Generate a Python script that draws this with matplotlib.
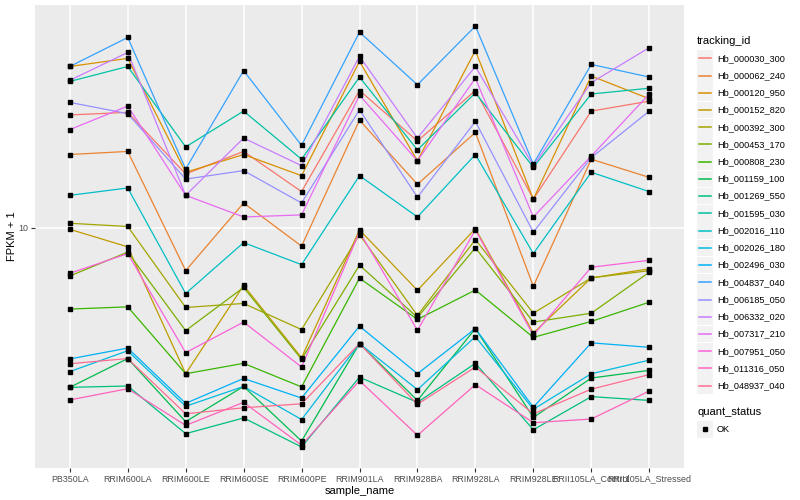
import numpy as np
import matplotlib
matplotlib.use('Agg')
import matplotlib.pyplot as plt
from matplotlib.patches import Rectangle
from matplotlib.lines import Line2D

plt.rcParams['font.family'] = ['Liberation Sans', 'DejaVu Sans']

# Образцы (ось X)
samples = ['PB350LA', 'RRIM600LA', 'RRIM600LE', 'RRIM600SE', 'RRIM600PE', 'RRIM901LA',
           'RRIM928BA', 'RRIM928LA', 'RRIM928LE', 'RRII105LA_Control', 'RRII105LA_Stressed']

# FPKM + 1 для каждого гена
hb_000030_300 = [16.8, 17.0, 12.8, 14.2, 11.8, 18.8, 14.9, 18.8, 11.4, 17.1, 17.9]
hb_000062_240 = [14.0, 14.2, 8.2, 11.2, 9.18, 16.4, 12.2, 15.5, 7.63, 13.7, 12.6]
hb_000120_950 = [21.0, 21.8, 12.9, 14.0, 12.7, 21.5, 13.6, 22.6, 11.4, 20.1, 18.1]
hb_000152_820 = [9.92, 9.15, 5.10, 7.66, 5.49, 9.89, 7.49, 9.95, 6.15, 7.93, 8.27]
hb_000392_300 = [10.2, 10.05, 6.92, 7.05, 6.25, 9.68, 6.67, 9.46, 6.74, 7.93, 8.20]
hb_000453_170 = [8.00, 8.93, 6.22, 7.59, 5.45, 8.41, 6.61, 9.11, 6.47, 6.74, 8.14]
hb_000808_230 = [6.87, 6.94, 5.10, 5.35, 4.80, 7.92, 6.55, 7.50, 6.03, 6.49, 7.09]
hb_001159_100 = [4.79, 5.47, 4.09, 4.81, 3.74, 5.86, 4.51, 6.28, 4.17, 5.00, 5.18]
hb_001269_550 = [4.79, 4.82, 3.87, 4.16, 3.64, 5.02, 4.47, 5.35, 3.94, 4.59, 4.51]
hb_001595_030 = [19.6, 21.0, 14.5, 17.1, 13.7, 20.0, 14.3, 18.6, 13.2, 18.5, 19.0]
hb_002016_110 = [11.6, 12.0, 7.38, 9.33, 8.43, 12.7, 10.5, 14.0, 8.87, 12.9, 11.8]
hb_002026_180 = [5.15, 5.67, 4.39, 4.81, 4.13, 5.86, 4.74, 6.05, 4.33, 5.10, 5.43]
hb_002496_030 = [5.46, 5.74, 4.45, 4.99, 4.56, 6.35, 5.10, 6.28, 4.37, 5.88, 5.76]
hb_004837_040 = [21.0, 24.0, 13.1, 20.6, 14.6, 24.6, 19.3, 25.3, 13.4, 21.2, 20.0]
hb_006185_050 = [17.8, 16.9, 12.5, 13.0, 11.2, 17.2, 11.5, 16.3, 9.79, 13.8, 17.1]
hb_006332_020 = [19.7, 22.4, 11.6, 15.1, 13.3, 22.0, 15.1, 21.0, 13.3, 19.5, 22.9]
hb_007317_210 = [15.7, 17.5, 11.6, 10.5, 10.6, 18.4, 13.6, 19.9, 10.5, 13.9, 18.5]
hb_007951_050 = [8.10, 8.87, 5.62, 6.47, 5.26, 9.80, 6.23, 9.89, 6.09, 8.33, 8.60]
hb_011316_050 = [4.52, 4.76, 4.02, 4.47, 3.67, 4.94, 3.84, 4.85, 4.07, 4.14, 4.71]
hb_048937_040 = [5.34, 5.47, 4.24, 4.36, 4.44, 5.86, 4.43, 5.26, 4.24, 4.75, 5.08]

tracking_ids = ['Hb_000030_300', 'Hb_000062_240', 'Hb_000120_950', 'Hb_000152_820',
                'Hb_000392_300', 'Hb_000453_170', 'Hb_000808_230', 'Hb_001159_100',
                'Hb_001269_550', 'Hb_001595_030', 'Hb_002016_110', 'Hb_002026_180',
                'Hb_002496_030', 'Hb_004837_040', 'Hb_006185_050', 'Hb_006332_020',
                'Hb_007317_210', 'Hb_007951_050', 'Hb_011316_050', 'Hb_048937_040']
series = [hb_000030_300, hb_000062_240, hb_000120_950, hb_000152_820, hb_000392_300,
          hb_000453_170, hb_000808_230, hb_001159_100, hb_001269_550, hb_001595_030,
          hb_002016_110, hb_002026_180, hb_002496_030, hb_004837_040, hb_006185_050,
          hb_006332_020, hb_007317_210, hb_007951_050, hb_011316_050, hb_048937_040]

# палитра ggplot (hue_pal, 20 цветов)
colors = ['#F8766D', '#EA8331', '#D89000', '#C09B00', '#A3A500', '#7CAE00', '#39B600',
          '#00BB4E', '#00BF7D', '#00C1A3', '#00BFC4', '#00BAE0', '#00B0F6', '#35A2FF',
          '#9590FF', '#C77CFF', '#E76BF3', '#FA62DB', '#FF62BC', '#FF6C91']

fig = plt.figure(figsize=(8, 5), dpi=100)
ax = fig.add_axes([35 / 800, 1 - 468 / 500, (684 - 35) / 800, (468 - 5) / 500])
ax.set_facecolor('#EBEBEB')

x = np.arange(len(samples))
for vals, c in zip(series, colors):
    ax.plot(x, vals, color=c, lw=0.9, zorder=2)
for vals in series:
    ax.plot(x, vals, ls='none', marker='s', ms=2.8, color='black', zorder=3)

ax.set_yscale('log')
all_vals = np.concatenate([np.array(s) for s in series])
lo, hi = np.log10(all_vals.min()), np.log10(all_vals.max())
pad = 0.05 * (hi - lo)
ax.set_ylim(10 ** (lo - pad), 10 ** (hi + pad))
ax.set_xlim(-0.6, len(samples) - 0.4)

ax.yaxis.set_minor_locator(matplotlib.ticker.NullLocator())
ax.set_yticks([10])
ax.set_yticklabels(['10'])
ax.set_xticks(x)
ax.set_xticklabels(samples)

ax.grid(True, which='major', color='white', lw=1.1, zorder=0)
ax.set_axisbelow(True)
for s in ax.spines.values():
    s.set_visible(False)
ax.tick_params(axis='both', length=2.8, width=0.8, color='#333333', labelcolor='#4D4D4D',
               labelsize=6.4, pad=2)

ax.set_xlabel('sample_name', fontsize=8, labelpad=2)
ax.set_ylabel('FPKM + 1', fontsize=8, labelpad=1)

# легенда (в пикселях фигуры)
lax = fig.add_axes([0, 0, 1, 1])
lax.set_xlim(0, 800)
lax.set_ylim(500, 0)
lax.axis('off')

lax.text(697, 40.5, 'tracking_id', fontsize=8, va='center', ha='left')
y0 = 58.3
step = 17.23
for i, (name, c) in enumerate(zip(tracking_ids, colors)):
    yc = y0 + i * step
    lax.add_patch(Rectangle((697, yc - 8.3), 16, 16.6, facecolor='#F2F2F2', edgecolor='none'))
    lax.add_line(Line2D([699, 711], [yc, yc], color=c, lw=1.1))
    lax.text(717, yc, name, fontsize=6.6, va='center', ha='left')

lax.text(697, 411.7, 'quant_status', fontsize=8, va='center', ha='left')
yc = 429.3
lax.add_patch(Rectangle((697, yc - 8.3), 16, 16.6, facecolor='#F2F2F2', edgecolor='none'))
lax.add_line(Line2D([705], [yc], color='black', marker='s', ms=2.8, ls='none'))
lax.text(717, yc, 'OK', fontsize=6.6, va='center', ha='left')

fig.savefig('out.png', dpi=100)
